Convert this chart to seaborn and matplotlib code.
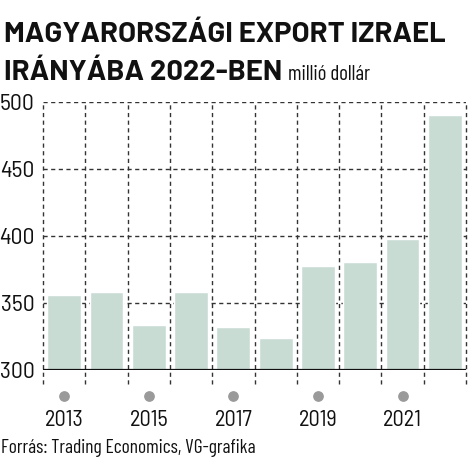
import matplotlib
matplotlib.use("Agg")
import matplotlib.pyplot as plt
import seaborn as sns
import pandas as pd
from matplotlib import font_manager

years = ["2013", "2014", "2015", "2016", "2017", "2018", "2019", "2020", "2021", "2022"]
export_musd = [356, 358, 334, 358, 332, 324, 378, 381, 398, 490]
y_ticks = [300, 350, 400, 450, 500]
x_labels = ["2013", "", "2015", "", "2017", "", "2019", "", "2021", ""]

sns.set_style("white")
names = {f.name for f in font_manager.fontManager.ttflist}


def pick(*cands):
    for c in cands:
        if c in names:
            return [c, "DejaVu Sans"]
    return ["DejaVu Sans"]


title_font = pick("Barlow", "Barlow Semi Condensed")
tick_font = pick("Barlow Semi Condensed", "Barlow Condensed")
small_font = pick("Barlow Condensed")
plt.rcParams["font.family"] = tick_font

df = pd.DataFrame({"year": years, "value": export_musd})

fig = plt.figure(figsize=(4.74, 4.74), dpi=100)
ax = fig.add_axes([0.091, 0.219, 0.892, 0.566])

sns.barplot(data=df, x="year", y="value", order=years, color="#c9dcd4",
            saturation=1, width=0.8, ax=ax, zorder=3)

ax.set_ylim(300, 500)
ax.set_xlim(-0.5, len(years) - 0.5)
ax.set_yticks(y_ticks)
ax.set_xticks(range(len(years)))
ax.set_xticklabels(x_labels)
ax.set_xlabel("")
ax.set_ylabel("")

# dashed horizontal grid
for v in y_ticks[1:]:
    ax.axhline(v, color="#333333", lw=1, ls=(0, (3, 2.5)), zorder=1)
# dashed vertical lines between bars, sticking out below the baseline
xt = ax.get_xaxis_transform()
for i in range(len(years) + 1):
    ax.plot([i - 0.5, i - 0.5], [-0.05, 1.0], transform=xt, color="#333333",
            lw=1, ls=(0, (3, 2.5)), clip_on=False, zorder=1)
ax.axhline(300, color="#111111", lw=1.6, zorder=4)

# grey dots above year labels
for i, lab in enumerate(x_labels):
    if lab:
        ax.scatter([i], [-0.095], transform=xt, s=45, color="#9a9a9a",
                   clip_on=False, zorder=5)

for s in ax.spines.values():
    s.set_visible(False)
ax.tick_params(axis="x", length=0, pad=29, labelsize=16, colors="#111111")
ax.tick_params(axis="y", length=5, width=1, pad=1, labelsize=17, colors="#111111")

fig.text(0.008, 0.912, "MAGYARORSZÁGI EXPORT IZRAEL", fontsize=21, fontweight="bold",
         family=title_font, va="baseline", ha="left", color="#111111")
t2 = fig.text(0.008, 0.831, "IRÁNYÁBA 2022-BEN", fontsize=21, fontweight="bold",
              family=title_font, va="baseline", ha="left", color="#111111")
fig.canvas.draw()
bb = t2.get_window_extent().transformed(fig.transFigure.inverted())
fig.text(bb.x1 + 0.012, 0.831, "millió dollár", fontsize=15, family=small_font,
         va="baseline", ha="left", color="#111111")

fig.text(0.003, 0.035, "Forrás: Trading Economics, VG-grafika", fontsize=14,
         family=small_font, va="bottom", ha="left", color="#111111")

fig.savefig("out.png", dpi=100)
